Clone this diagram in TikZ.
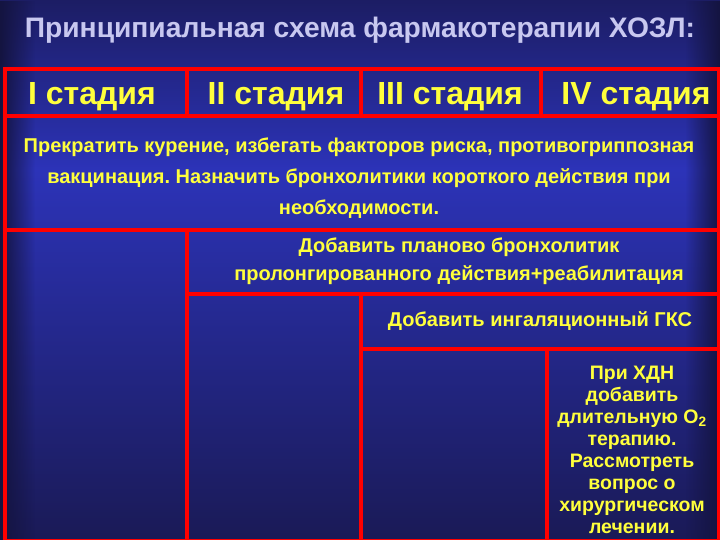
\documentclass[tikz,border=0pt]{standalone}
\usepackage{fontspec}
\setmainfont{Liberation Sans}
\usetikzlibrary{fadings}
\definecolor{bgtop}{HTML}{1C1D64}
\definecolor{bgmid}{HTML}{2C33B8}
\definecolor{bgbot}{HTML}{1A1A56}
\definecolor{edgecol}{HTML}{141440}
\definecolor{txtyellow}{HTML}{FFFF3C}
\definecolor{titlecol}{HTML}{C8C8F0}
\tikzfading[name=fadeE, left color=transparent!0, right color=transparent!100]
\tikzfading[name=fadeW, left color=transparent!100, right color=transparent!0]
\frenchspacing
\begin{document}
\begin{tikzpicture}[x=1pt,y=-1pt,
  cell/.style={draw=red, line width=4pt, inner sep=0pt, anchor=north west},
  stagetxt/.style={text=txtyellow, font=\fontsize{32}{34}\selectfont\bfseries, inner sep=0pt},
  bodytxt/.style={text=txtyellow, align=center, inner sep=0pt},
  titletxt/.style={text=titlecol, font=\fontsize{28.2}{30}\selectfont\bfseries, inner sep=0pt}]
\useasboundingbox (0,0) rectangle (720,540);
% background
\shade[top color=bgtop, bottom color=bgmid] (0,0) rectangle (720,170);
\shade[top color=bgmid, bottom color=bgbot] (0,170) rectangle (720,540);
\fill[edgecol, path fading=fadeE] (0,0) rectangle (35,540);
\fill[edgecol, path fading=fadeW] (685,0) rectangle (720,540);
% title
\node[titletxt] (title) at (360,30) {Принципиальная схема фармакотерапии ХОЗЛ:};
% header cells
\node[cell, minimum width=182pt, minimum height=47pt] (h1) at (3,67) {};
\node[cell, minimum width=174pt, minimum height=47pt] (h2) at (185,67) {};
\node[cell, minimum width=180pt, minimum height=47pt] (h3) at (359,67) {};
\node[cell, minimum width=178pt, minimum height=47pt] (h4) at (539,67) {};
\node[stagetxt] (s1) at (92,97) {I стадия};
\node[stagetxt] (s2) at (276,97) {II стадия};
\node[stagetxt] (s3) at (450,97) {III стадия};
\node[stagetxt] (s4) at (636,97) {IV стадия};
% row 2
\node[cell, minimum width=714pt, minimum height=114pt] (r2) at (3,114) {};
\node[bodytxt, font=\fontsize{20}{31}\selectfont\bfseries] (t2) at (359,178)
  {Прекратить курение, избегать факторов риска, противогриппозная\\
   вакцинация. Назначить бронхолитики короткого действия при\\
   необходимости.};
% left column
\node[cell, minimum width=182pt, minimum height=311pt] (c1) at (3,228) {};
% row 3
\node[cell, minimum width=532pt, minimum height=64pt] (r3) at (185,228) {};
\node[bodytxt, font=\fontsize{20}{28}\selectfont\bfseries] (t3) at (459,261)
  {Добавить планово бронхолитик\\
   пролонгированного действия+реабилитация};
% second column
\node[cell, minimum width=174pt, minimum height=247pt] (c2) at (185,292) {};
% row 4
\node[cell, minimum width=358pt, minimum height=55pt] (r4) at (359,292) {};
\node[bodytxt, font=\fontsize{20}{22}\selectfont\bfseries] (t4) at (540,321)
  {Добавить ингаляционный ГКС};
% bottom cells
\node[cell, minimum width=186pt, minimum height=192pt] (c3) at (359,347) {};
\node[cell, minimum width=172pt, minimum height=192pt] (c4) at (545,347) {};
\node[bodytxt, font=\fontsize{19.5}{22}\selectfont\bfseries] (t5) at (632,450)
  {При ХДН\\добавить\\длительную O\textsubscript{2}\\терапию.\\Рассмотреть\\вопрос о\\хирургическом\\лечении.};
\end{tikzpicture}
\end{document}
